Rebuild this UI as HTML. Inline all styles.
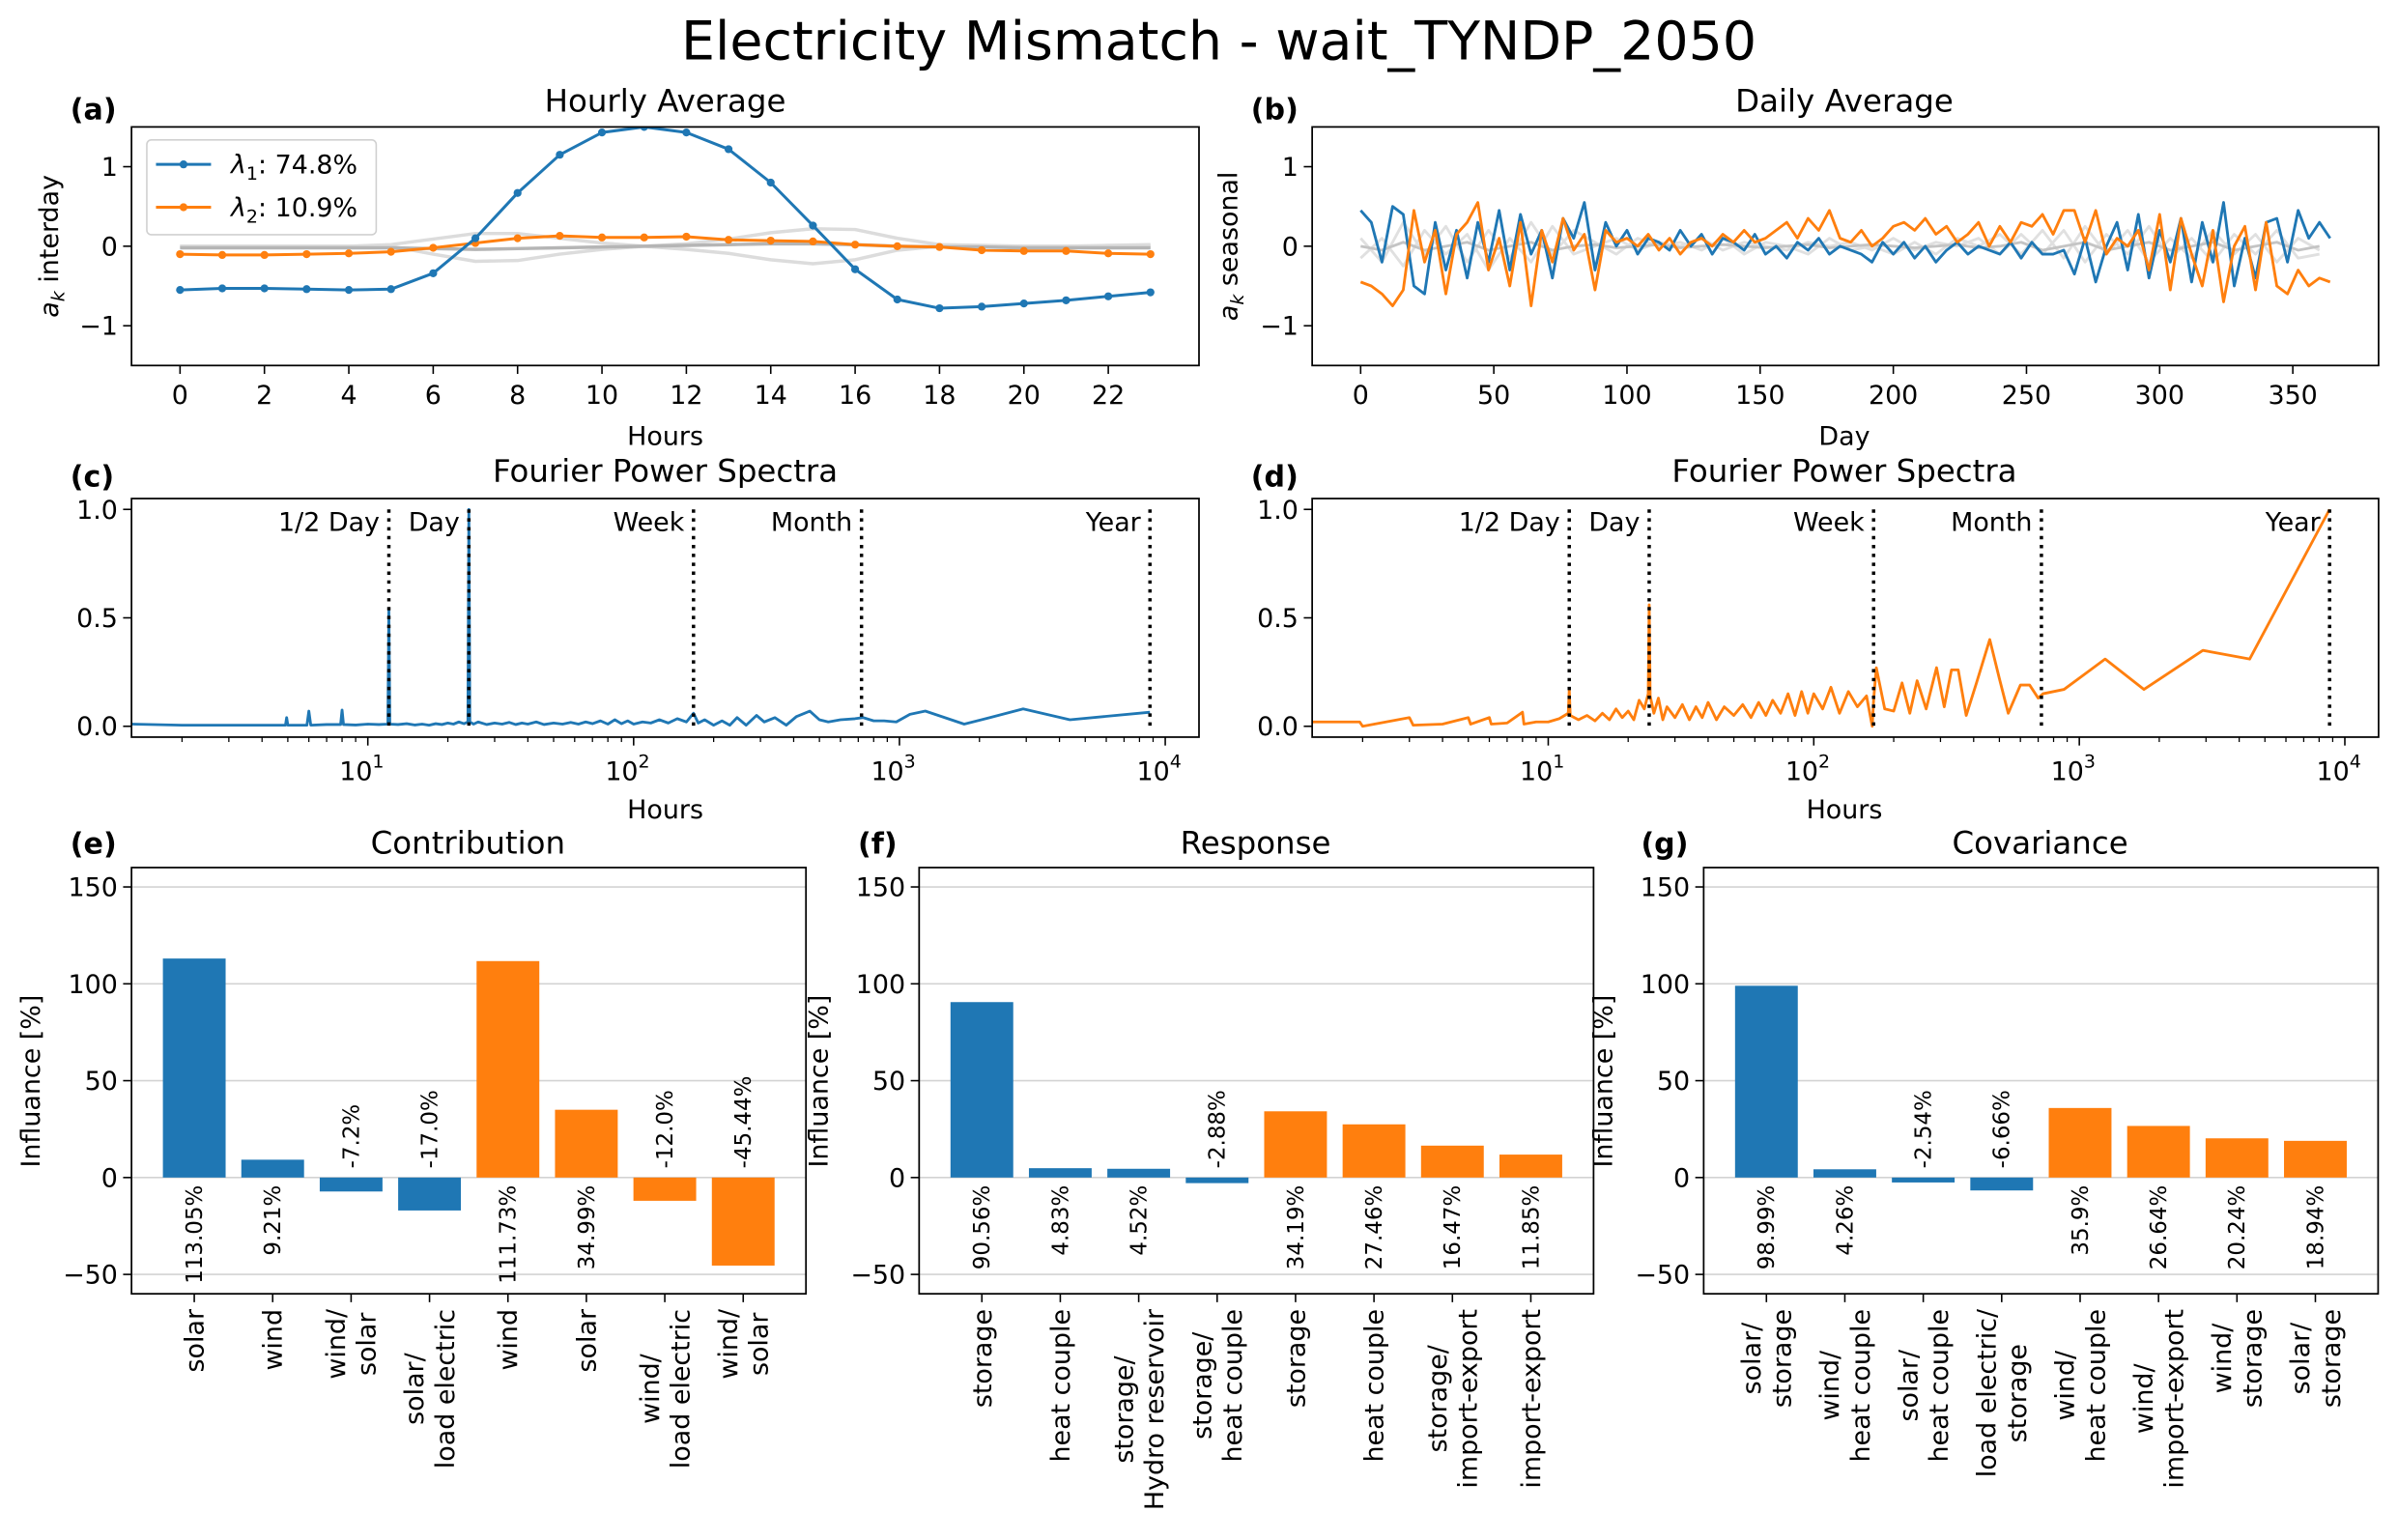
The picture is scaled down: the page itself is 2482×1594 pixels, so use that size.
<!DOCTYPE html>
<html><head><meta charset="utf-8"><title>Electricity Mismatch - wait_TYNDP_2050</title>
<style>
html,body{margin:0;padding:0;background:#fff;}
svg{display:block;font-family:"DejaVu Sans","Liberation Sans",sans-serif;}
</style></head>
<body>
<svg id="fig" xmlns="http://www.w3.org/2000/svg" width="2482" height="1594" viewBox="0 0 1568 1007" preserveAspectRatio="none">
<rect x="0" y="0" width="1568" height="1007" fill="#fff"/>
<text x="797" y="39" font-size="35" text-anchor="middle">Electricity Mismatch - wait_TYNDP_2050</text>
<text x="46" y="78" font-size="19" font-weight="bold">(a)</text>
<text x="818" y="78" font-size="19" font-weight="bold">(b)</text>
<text x="46" y="318" font-size="19" font-weight="bold">(c)</text>
<text x="818" y="318" font-size="19" font-weight="bold">(d)</text>
<text x="46" y="558" font-size="19" font-weight="bold">(e)</text>
<text x="561" y="558" font-size="19" font-weight="bold">(f)</text>
<text x="1073" y="558" font-size="19" font-weight="bold">(g)</text>
<text x="435" y="73" font-size="20.5" text-anchor="middle">Hourly Average</text>
<text x="1206" y="73" font-size="20.5" text-anchor="middle">Daily Average</text>
<text x="435" y="315" font-size="20.5" text-anchor="middle">Fourier Power Spectra</text>
<text x="1206" y="315" font-size="20.5" text-anchor="middle">Fourier Power Spectra</text>
<text x="306" y="558" font-size="20.5" text-anchor="middle">Contribution</text>
<text x="821" y="558" font-size="20.5" text-anchor="middle">Response</text>
<text x="1334" y="558" font-size="20.5" text-anchor="middle">Covariance</text>
<text x="435" y="291" font-size="17" text-anchor="middle">Hours</text>
<text x="1206" y="291" font-size="17" text-anchor="middle">Day</text>
<text x="435" y="535" font-size="17" text-anchor="middle">Hours</text>
<text x="1206" y="535" font-size="17" text-anchor="middle">Hours</text>
<text transform="translate(38,161) rotate(-90)" font-size="17" text-anchor="middle"><tspan font-style="italic">a</tspan><tspan font-size="12" dy="4" font-style="italic">k</tspan><tspan dy="-4"> interday</tspan></text>
<text transform="translate(809,161) rotate(-90)" font-size="17" text-anchor="middle"><tspan font-style="italic">a</tspan><tspan font-size="12" dy="4" font-style="italic">k</tspan><tspan dy="-4"> seasonal</tspan></text>
<text transform="translate(26,707) rotate(-90)" font-size="17" text-anchor="middle">Influance [%]</text>
<text transform="translate(541,707) rotate(-90)" font-size="17" text-anchor="middle">Influance [%]</text>
<text transform="translate(1054,707) rotate(-90)" font-size="17" text-anchor="middle">Influance [%]</text>
</svg>
<script>
// ---------- data ----------
const hours = [0,1,2,3,4,5,6,7,8,9,10,11,12,13,14,15,16,17,18,19,20,21,22,23];
const hourlyLambda1 = [-0.55,-0.53,-0.53,-0.54,-0.55,-0.54,-0.34,0.1,0.67,1.15,1.43,1.5,1.43,1.22,0.8,0.26,-0.29,-0.67,-0.78,-0.76,-0.72,-0.68,-0.63,-0.58];
const hourlyLambda2 = [-0.1,-0.11,-0.11,-0.1,-0.09,-0.07,-0.02,0.04,0.1,0.13,0.11,0.11,0.12,0.08,0.07,0.06,0.02,0.0,-0.01,-0.05,-0.06,-0.06,-0.09,-0.1];
const hourlyGray1 = [0,0,0,0,0,0.02,0.09,0.16,0.16,0.1,0.04,0.0,-0.04,-0.09,-0.17,-0.22,-0.17,-0.05,0,0,0,0,0,0];
const hourlyGray2 = [0,0,0,0,0,0,-0.1,-0.19,-0.18,-0.1,-0.04,0.0,0.03,0.09,0.17,0.22,0.21,0.1,0.02,0.01,0,0,0.01,0.02];
const hourlyGray3 = [-0.02,-0.02,-0.02,-0.02,-0.02,-0.02,-0.03,-0.04,-0.03,-0.02,-0.01,0,0.01,0.02,0.03,0.03,0.02,0.0,-0.01,-0.01,-0.02,-0.02,-0.02,-0.02];
const legendLabels = ["74.8%","10.9%"];

const dailyStep = 4;
const dailyLambda1 = [0.45,0.3,-0.2,0.5,0.4,-0.5,-0.6,0.3,-0.3,0.2,-0.4,0.3,-0.2,0.45,-0.3,0.4,-0.1,0.2,-0.4,0.35,0.1,0.55,-0.3,0.3,0.0,0.2,-0.1,0.1,0.05,-0.05,0.2,0.0,0.15,-0.1,0.1,0.05,-0.05,0.15,-0.1,0.0,-0.15,0.05,-0.05,0.1,-0.1,0.0,-0.05,-0.1,-0.2,0.05,-0.1,0.05,-0.15,0.0,-0.2,-0.05,0.05,-0.1,0.0,-0.05,-0.1,0.05,-0.15,0.05,-0.1,-0.1,-0.05,-0.35,0.1,-0.45,0.0,0.3,-0.3,0.4,-0.4,0.2,-0.2,0.35,-0.45,0.3,-0.2,0.55,-0.5,0.1,-0.4,0.3,0.35,-0.2,0.45,0.1,0.3,0.1];
const dailyLambda2 = [-0.45,-0.5,-0.6,-0.75,-0.55,0.45,-0.2,0.2,-0.6,0.15,0.3,0.55,-0.3,0.1,-0.5,0.3,-0.75,0.2,-0.2,0.35,-0.05,0.15,-0.55,0.2,0.05,0.1,0.0,0.15,-0.05,0.1,-0.1,0.05,0.1,0.0,0.15,0.05,0.2,0.05,0.1,0.2,0.3,0.1,0.35,0.2,0.45,0.1,0.05,0.2,0.0,0.1,0.25,0.3,0.2,0.35,0.15,0.25,0.05,0.15,0.3,0.0,0.25,0.05,0.3,0.25,0.4,0.15,0.45,0.45,0.05,0.45,-0.1,0.1,0.0,0.2,-0.3,0.4,-0.55,0.35,-0.1,-0.5,0.2,-0.7,0.0,0.25,-0.55,0.3,-0.5,-0.6,-0.3,-0.5,-0.4,-0.45];
const dailyGrayStep = 8;
const dailyGray1 = [0.1,-0.2,0.3,-0.1,0.25,-0.2,0.2,-0.15,0.3,-0.1,0.2,0.05,-0.1,0.1,0.0,0.05,-0.05,0.1,-0.1,0.05,0.0,-0.1,0.1,-0.05,0.0,-0.1,0.05,-0.1,0.1,0.0,0.15,-0.1,0.2,-0.15,0.25,-0.1,0.2,-0.2,0.1,-0.15,0.2,-0.1,0.15,-0.2,0.1,-0.05];
const dailyGray2 = [-0.15,0.1,-0.25,0.2,-0.1,0.15,-0.3,0.1,-0.2,0.25,-0.1,0.0,0.1,-0.05,0.05,0.0,0.1,-0.05,0.05,0.0,-0.05,0.05,0.0,0.05,-0.05,0.1,-0.05,0.05,0.0,0.1,-0.1,0.15,-0.1,0.2,-0.2,0.15,-0.1,0.25,-0.15,0.1,-0.2,0.15,-0.1,0.2,-0.15,-0.1];
const dailyGray3 = [0.0,-0.05,0.05,-0.05,0.0,0.05,-0.05,0.0,0.05,-0.05,0.0,0.02,-0.02,0.0,0.02,-0.02,0.0,0.02,0.0,-0.02,0.0,0.02,-0.02,0.0,0.02,0.0,-0.02,0.0,0.02,-0.02,0.0,0.05,-0.05,0.0,0.05,-0.05,0.0,0.05,-0.05,0.0,0.05,-0.05,0.0,0.05,-0.05,0.0];

const specPeriodsC = [1.3,2,2.5,3,3.5,4,4.5,4.9,4.95,5.0,5.5,5.9,6.0,6.1,7,7.9,8.0,8.1,9,10,11,11.9,12,12.1,13,14,15,16,17,18,19,20,21,22,23,23.8,24,24.2,25,26,28,30,32,34,36,38,40,43,46,50,54,58,62,66,70,75,80,85,90,95,100,108,116,125,135,146,158,168,175,185,200,215,230,245,265,290,310,340,375,410,460,500,540,600,680,730,800,876,973,1095,1251,1752,2190,2920,4380,8760];
const specValuesC = [0.01,0.005,0.005,0.005,0.005,0.005,0.005,0.005,0.04,0.005,0.005,0.005,0.07,0.005,0.008,0.008,0.075,0.008,0.006,0.01,0.008,0.01,0.54,0.01,0.008,0.012,0.006,0.01,0.005,0.012,0.008,0.015,0.01,0.02,0.012,0.02,1.0,0.02,0.01,0.02,0.008,0.015,0.01,0.018,0.008,0.015,0.01,0.02,0.008,0.015,0.01,0.018,0.01,0.02,0.012,0.025,0.01,0.03,0.012,0.025,0.01,0.02,0.015,0.03,0.015,0.035,0.02,0.06,0.015,0.03,0.005,0.025,0.005,0.04,0.005,0.05,0.02,0.04,0.005,0.045,0.07,0.03,0.02,0.03,0.035,0.04,0.025,0.025,0.02,0.055,0.07,0.01,0.04,0.08,0.03,0.065];
const specPeriodsD = [1.3,1.95,2.0,3,3.1,4,5,5.1,6,6.1,7,8,8.1,9,10,11,11.9,12,12.1,13,14,15,16,17,18,19,20,21,22,23,23.8,24,24.2,25,26,27,28,30,32,34,36,38,40,43,46,50,54,58,62,66,70,75,80,85,90,95,100,108,116,125,135,146,158,166,168,172,185,200,215,230,245,265,290,310,330,350,375,410,460,500,540,600,650,700,730,800,876,1251,1752,2920,4380,8760];
const specValuesD = [0.02,0.02,0.0,0.04,0.005,0.01,0.04,0.01,0.04,0.01,0.015,0.065,0.01,0.02,0.02,0.035,0.06,0.17,0.05,0.03,0.05,0.025,0.06,0.03,0.08,0.04,0.07,0.03,0.12,0.08,0.15,0.56,0.14,0.06,0.13,0.03,0.09,0.04,0.1,0.03,0.09,0.04,0.11,0.03,0.09,0.05,0.1,0.04,0.11,0.05,0.12,0.06,0.15,0.05,0.16,0.06,0.15,0.08,0.18,0.06,0.16,0.09,0.14,0.0,0.12,0.27,0.08,0.07,0.2,0.06,0.21,0.08,0.27,0.09,0.26,0.26,0.05,0.2,0.4,0.22,0.06,0.19,0.19,0.13,0.15,0.16,0.17,0.31,0.17,0.35,0.31,1.0];
const markerPeriods = [12,24,168,720,8760];
const markerLabels = ["1/2 Day","Day","Week","Month","Year"];

const contribCats = [["solar"],["wind"],["wind/","solar"],["solar/","load electric"],["wind"],["solar"],["wind/","load electric"],["wind/","solar"]];
const contribValues = [113.05,9.21,-7.2,-17.0,111.73,34.99,-12.0,-45.44];
const contribLabels = ["113.05%","9.21%","-7.2%","-17.0%","111.73%","34.99%","-12.0%","-45.44%"];
const responseCats = [["storage"],["heat couple"],["storage/","Hydro reservoir"],["storage/","heat couple"],["storage"],["heat couple"],["storage/","import-export"],["import-export"]];
const responseValues = [90.56,4.83,4.52,-2.88,34.19,27.46,16.47,11.85];
const responseLabels = ["90.56%","4.83%","4.52%","-2.88%","34.19%","27.46%","16.47%","11.85%"];
const covCats = [["solar/","storage"],["wind/","heat couple"],["solar/","heat couple"],["load electric/","storage"],["wind/","heat couple"],["wind/","import-export"],["wind/","storage"],["solar/","storage"]];
const covValues = [98.99,4.26,-2.54,-6.66,35.9,26.64,20.24,18.94];
const covLabels = ["98.99%","4.26%","-2.54%","-6.66%","35.9%","26.64%","20.24%","18.94%"];
const barColors = ["#1f77b4","#1f77b4","#1f77b4","#1f77b4","#ff7f0e","#ff7f0e","#ff7f0e","#ff7f0e"];
const barYTicks = [-50,0,50,100,150];

// ---------- helpers ----------
const NS = 'http://www.w3.org/2000/svg';
const svg = document.getElementById('fig');
const FS = 17;
function mk(tag, attrs, parent){
  const e = document.createElementNS(NS, tag);
  for (const k in attrs) e.setAttribute(k, attrs[k]);
  (parent || svg).appendChild(e);
  return e;
}
const BLUE = '#1f77b4', ORANGE = '#ff7f0e';
function linScale(d0,d1,r0,r1){return v => r0 + (v-d0)/(d1-d0)*(r1-r0);}
function frame(x0,y0,x1,y1,name){
  const r = mk('rect',{x:x0,y:y0,width:x1-x0,height:y1-y0,fill:'none',stroke:'#000','stroke-width':1.1});
  
  
}
function xTick(x, yb, label, name, len){
  const t = mk('line',{x1:x,x2:x,y1:yb,y2:yb+(len||5.5),stroke:'#000','stroke-width':1});
  
  
  if (label !== null && label !== undefined){
    const tx = mk('text',{x:x,y:yb+25,'font-size':FS,'text-anchor':'middle'});
    tx.textContent = label;
    
    
  }
}
function yTick(xl, y, label, name){
  const t = mk('line',{x1:xl-5.5,x2:xl,y1:y,y2:y,stroke:'#000','stroke-width':1});
  
  
  const tx = mk('text',{x:xl-9,y:y+6,'font-size':FS,'text-anchor':'end'});
  tx.textContent = label;
  
  
}
function poly(xs, ys, sx, sy, stroke, width, name, clip){
  const pts = xs.map((v,i)=> sx(v).toFixed(2)+','+sy(ys[i]).toFixed(2)).join(' ');
  const p = mk('polyline',{points:pts,fill:'none',stroke:stroke,'stroke-width':width,'stroke-linejoin':'round'});
  if (clip) p.setAttribute('clip-path', clip);
  
  
  return p;
}
function fmtMinus(v){return String(v).replace('-', '\u2212');}

const defs = mk('defs',{});
function clipRect(id,x0,y0,x1,y1){const c = mk('clipPath',{id:id},defs); mk('rect',{x:x0,y:y0,width:x1-x0,height:y1-y0},c);}
clipRect('clipA',86,83,784,239);
clipRect('clipB',858,83,1555.3,239);

// ---------- panel (a) ----------
(function(){
  const X0=86,X1=784,Y0=83,Y1=239;
  const sx = linScale(-1.15,24.15,X0,X1), sy = linScale(-1.5,1.5,Y1,Y0);
  poly(hours,hourlyGray1,sx,sy,'#dcdcdc',2.2,'hourly-gray-line-1','url(#clipA)');
  poly(hours,hourlyGray2,sx,sy,'#dcdcdc',2.2,'hourly-gray-line-2','url(#clipA)');
  poly(hours,hourlyGray3,sx,sy,'#b5b5b5',2.2,'hourly-gray-line-3','url(#clipA)');
  poly(hours,hourlyLambda2,sx,sy,ORANGE,1.9,'hourly-lambda2-line','url(#clipA)');
  hours.forEach((h,i)=>{
    const c = mk('circle',{cx:sx(h),cy:sy(hourlyLambda2[i]),r:2.6,fill:ORANGE});
    
    
  });
  poly(hours,hourlyLambda1,sx,sy,BLUE,1.9,'hourly-lambda1-line','url(#clipA)');
  hours.forEach((h,i)=>{
    const c = mk('circle',{cx:sx(h),cy:sy(hourlyLambda1[i]),r:2.6,fill:BLUE,'clip-path':'url(#clipA)'});
    
    
  });
  frame(X0,Y0,X1,Y1,'axes-hourly-average');
  for (let h=0; h<=22; h+=2) xTick(sx(h),Y1,String(h),'x-hourly');
  [-1,0,1].forEach(v=>yTick(X0,sy(v),fmtMinus(v),'y-hourly'));
  const lg = mk('rect',{x:96,y:91.5,width:150,height:62,rx:3,fill:'#fff','fill-opacity':0.8,stroke:'#d0d0d0','stroke-width':1});
  
  
  [[BLUE,107.5,'1',legendLabels[0]],[ORANGE,135.5,'2',legendLabels[1]]].forEach((e,i)=>{
    const l = mk('line',{x1:102,x2:138,y1:e[1],y2:e[1],stroke:e[0],'stroke-width':1.9});
    
    
    const c = mk('circle',{cx:120,cy:e[1],r:2.6,fill:e[0]});
    
    
    const t = mk('text',{x:151,y:e[1]+6,'font-size':FS});
    
    
    const a = mk('tspan',{'font-style':'italic'},t); a.textContent='\u03bb';
    const s = mk('tspan',{'font-size':12,dy:4},t); s.textContent=e[2];
    const r = mk('tspan',{dy:-4},t); r.textContent=': '+e[3];
  });
})();

// ---------- panel (b) ----------
(function(){
  const X0=858,X1=1555.3,Y0=83,Y1=239;
  const sx = linScale(-18.2,382.2,X0,X1), sy = linScale(-1.5,1.5,Y1,Y0);
  const gd = dailyGray1.map((v,i)=>i*dailyGrayStep);
  poly(gd,dailyGray1,sx,sy,'#e0e0e0',1.8,'daily-gray-line-1','url(#clipB)');
  poly(gd,dailyGray2,sx,sy,'#e0e0e0',1.8,'daily-gray-line-2','url(#clipB)');
  poly(gd,dailyGray3,sx,sy,'#c4c4c4',1.8,'daily-gray-line-3','url(#clipB)');
  const d1 = dailyLambda1.map((v,i)=>Math.min(i*dailyStep,364));
  const d2 = dailyLambda2.map((v,i)=>Math.min(i*dailyStep,364));
  poly(d1,dailyLambda1,sx,sy,BLUE,1.8,'daily-lambda1-line','url(#clipB)');
  poly(d2,dailyLambda2,sx,sy,ORANGE,1.8,'daily-lambda2-line','url(#clipB)');
  frame(X0,Y0,X1,Y1,'axes-daily-average');
  for (let d=0; d<=350; d+=50) xTick(sx(d),Y1,String(d),'x-daily');
  [-1,0,1].forEach(v=>yTick(X0,sy(v),fmtMinus(v),'y-daily'));
})();

// ---------- panels (c), (d) ----------
function spectrum(X0,X1,periods,values,color,tag){
  const Y0=326,Y1=482;
  const dec = (X1-X0)/(4.127-0.111);
  const sx = h => X0 + (Math.log10(h)-0.111)*dec;
  const sy = linScale(-0.05,1.05,Y1,Y0);
  const cid = 'clip'+tag;
  clipRect(cid,X0,Y0,X1,Y1);
  poly(periods,values,sx,sy,color,1.8,'spectrum-line-'+tag,'url(#'+cid+')');
  markerPeriods.forEach((p,i)=>{
    const l = mk('line',{x1:sx(p),x2:sx(p),y1:sy(1.0),y2:sy(0),stroke:'#000','stroke-width':2.2,'stroke-dasharray':'2.2 3.6'});
    
    
    const t = mk('text',{x:sx(p)-6,y:347,'font-size':FS,'text-anchor':'end'});
    t.textContent = markerLabels[i];
    
    
  });
  frame(X0,Y0,X1,Y1,'axes-fourier-'+tag);
  [1,2,3,4].forEach(e=>{
    const x = sx(Math.pow(10,e));
    xTick(x,Y1,null,'x-fourier-'+tag);
    const t = mk('text',{x:x-4,y:Y1+28,'font-size':FS,'text-anchor':'middle'});
    
    
    const a = mk('tspan',{},t); a.textContent='10';
    const s = mk('tspan',{'font-size':12,dy:-8},t); s.textContent=String(e);
  });
  for (let e=0;e<=3;e++) for (let m=2;m<=9;m++){
    const h = m*Math.pow(10,e), x = sx(h);
    if (x<X0||x>X1) continue;
    const t = mk('line',{x1:x,x2:x,y1:Y1,y2:Y1+3.2,stroke:'#000','stroke-width':0.8});
    
    
  }
  [0,0.5,1.0].forEach(v=>yTick(X0,sy(v),v.toFixed(1),'y-fourier-'+tag));
}
spectrum(86,784,specPeriodsC,specValuesC,BLUE,'c');
spectrum(858,1555.3,specPeriodsD,specValuesD,ORANGE,'d');

// ---------- bar panels ----------
function bars(X0,cats,values,labels,tag){
  const W=441, X1=X0+W, Y0=567.3, Y1=846;
  const sx = linScale(-0.8,7.8,X0,X1), sy = linScale(-60,160,Y1,Y0);
  const bw = 0.8*(sx(1)-sx(0));
  barYTicks.forEach(v=>{
    const g = mk('line',{x1:X0,x2:X1,y1:sy(v),y2:sy(v),stroke:'#d3d3d3','stroke-width':1});
    
    
  });
  values.forEach((v,i)=>{
    const y = Math.min(sy(v),sy(0)), h = Math.abs(sy(v)-sy(0));
    const r = mk('rect',{x:sx(i)-bw/2,y:y,width:bw,height:h,fill:barColors[i]});
    
    
    const t = mk('text',{'font-size':14.5,'text-anchor':v>=0?'end':'start',transform:'translate('+(sx(i)+5)+','+(v>=0?sy(0)+5:sy(0)-6)+') rotate(-90)'});
    t.textContent = labels[i];
    
    
  });
  frame(X0,Y0,X1,Y1,'axes-'+tag);
  barYTicks.forEach(v=>yTick(X0,sy(v),fmtMinus(v),'y-'+tag));
  cats.forEach((lines,i)=>{
    const x = sx(i);
    xTick(x,Y1,null,'x-'+tag);
    const g = mk('g',{transform:'translate('+x+','+(Y1+10)+') rotate(-90)'});
    
    
    const lh = 20, n = lines.length;
    const els = lines.map((s,k)=>{
      const t = mk('text',{x:0,y:(k-(n-1)/2)*lh+6,'font-size':FS,'text-anchor':'middle'},g);
      t.textContent = s;
      return t;
    });
    let maxL = 0;
    els.forEach(t=>{ try{ maxL = Math.max(maxL, t.getComputedTextLength()); }catch(e){ maxL = Math.max(maxL, t.textContent.length*10);} });
    if (!maxL) maxL = Math.max(...lines.map(s=>s.length*10));
    els.forEach(t=>t.setAttribute('x', -maxL/2));
  });
}
bars(86,contribCats,contribValues,contribLabels,'contribution');
bars(601,responseCats,responseValues,responseLabels,'response');
bars(1114,covCats,covValues,covLabels,'covariance');
</script>
</body></html>
